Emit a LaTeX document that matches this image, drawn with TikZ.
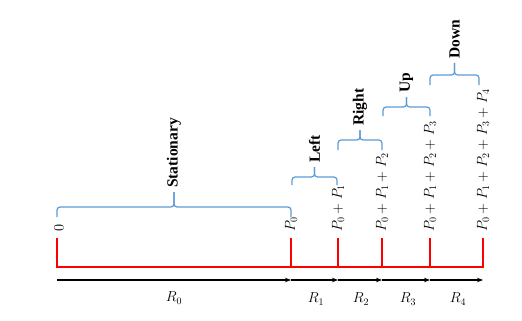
\documentclass[tikz,border=0pt]{standalone}
\usepackage{fontspec}
\newfontfamily\lblfont{Liberation Serif}
\usetikzlibrary{arrows.meta}
\definecolor{braceblue}{RGB}{91,155,213}
\tikzset{
  brace/.style={draw=braceblue, line width=1.2pt, rounded corners=3pt},
  redline/.style={draw=red, line width=1.6pt},
  axisarrow/.style={draw=black, line width=1.1pt, -{Stealth[length=6pt,width=4.5pt]}},
  blabel/.style={rotate=90, anchor=west, inner sep=0pt, font=\lblfont\bfseries\fontsize{15.5}{18}\selectfont},
  mlabel/.style={rotate=90, anchor=west, inner sep=0pt, font=\fontsize{14}{17}\selectfont},
  rlabel/.style={inner sep=0pt, font=\fontsize{14}{17}\selectfont}
}
\begin{document}
\begin{tikzpicture}[x=1pt,y=-1pt]
\useasboundingbox (0,0) rectangle (522,321);
% tick positions
\foreach \i/\x in {0/57,1/291,2/338,3/382,4/430,5/483}{
  \coordinate (t\i) at (\x,267);
  \coordinate (u\i) at (\x,238);
  \coordinate (a\i) at (\x,280);
}
% red frame
\draw[redline] (u0) -- (t0) -- (t5) -- (u5);
\foreach \i in {1,2,3,4}{ \draw[redline] (u\i) -- (t\i); }
% arrows
\foreach \i/\j in {0/1,1/2,2/3,3/4,4/5}{ \draw[axisarrow] (a\i) -- (a\j); }
% R labels
\node[rlabel] (r0) at (174,298) {$R_0$};
\node[rlabel] (r1) at (316,299) {$R_1$};
\node[rlabel] (r2) at (361,299) {$R_2$};
\node[rlabel] (r3) at (408,299) {$R_3$};
\node[rlabel] (r4) at (458,299) {$R_4$};
% position labels
\node[mlabel] (p0) at (59,232) {$0$};
\node[mlabel] (p1) at (291,232) {$P_0$};
\node[mlabel] (p2) at (338,232) {$P_0+P_1$};
\node[mlabel] (p3) at (382,232) {$P_0+P_1+P_2$};
\node[mlabel] (p4) at (430,232) {$P_0+P_1+P_2+P_3$};
\node[mlabel] (p5) at (483,232) {$P_0+P_1+P_2+P_3+P_4$};
% braces
\foreach \n/\xa/\xb/\yl/\ye/\yt/\txt in {
  S/57/291/207/217/192/Stationary,
  L/292/337/177/185/167/Left,
  R/338/382/140/150/130/Right,
  U/383/430/107/116/97/Up,
  D/430/479/75/85/63/Down}{
  \pgfmathsetmacro{\xm}{(\xa+\xb)/2}
  \coordinate (\n a) at (\xa,\ye);
  \coordinate (\n b) at (\xb,\ye);
  \coordinate (\n m) at (\xm,\yl);
  \coordinate (\n t) at (\xm,\yt);
  \draw[brace] (\n a) |- (\n m) -- (\n t);
  \draw[brace] (\n b) |- (\n m) -- (\n t);
  \node[blabel] (\n l) at ([yshift=4pt]\n t) {\txt};
}
\end{tikzpicture}
\end{document}
